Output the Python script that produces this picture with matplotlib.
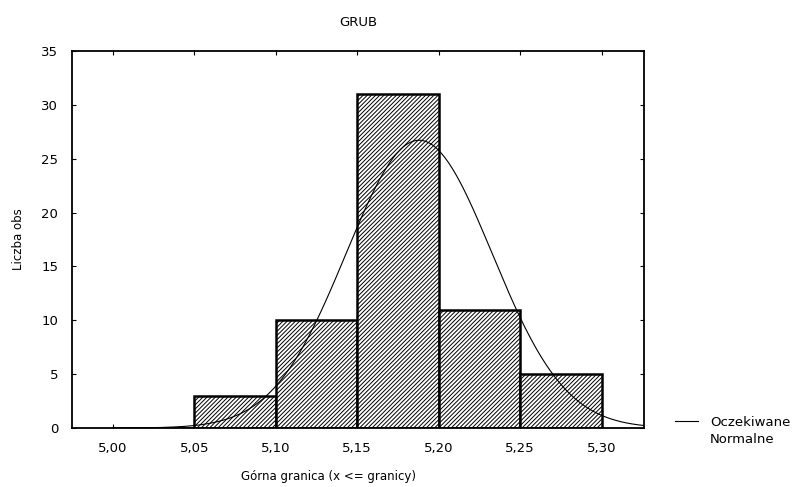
import numpy as np
import matplotlib.pyplot as plt
from matplotlib.lines import Line2D

plt.rcParams['font.family'] = ['DejaVu Sans']
plt.rcParams['hatch.linewidth'] = 0.7

# bins (left edges) and counts
left_edges = [5.00, 5.05, 5.10, 5.15, 5.20, 5.25]
counts = [0, 3, 10, 31, 11, 5]
bin_width = 0.05
tick_vals = [5.00, 5.05, 5.10, 5.15, 5.20, 5.25, 5.30]
tick_labels = ['5,00', '5,05', '5,10', '5,15', '5,20', '5,25', '5,30']

# fitted normal parameters (expected curve)
mu = 5.188
sd = 0.0448
n_obs = sum(counts)

fig = plt.figure(figsize=(7.94, 4.87), dpi=100)
ax = fig.add_axes([0.0907, 0.1211, 0.7204, 0.7742])

ax.bar(left_edges, counts, width=bin_width, align='edge', color='white',
       edgecolor='black', linewidth=1.8, hatch='/' * 8, zorder=2)

xs = np.linspace(5.0, 5.326, 300)
ys = n_obs * bin_width / (sd * np.sqrt(2 * np.pi)) * np.exp(-(xs - mu) ** 2 / (2 * sd ** 2))
line, = ax.plot(xs, ys, color='black', linewidth=0.8, zorder=3)

ax.set_xlim(4.975, 5.326)
ax.set_ylim(0, 35)
ax.set_xticks(tick_vals)
ax.set_xticklabels(tick_labels)
ax.set_yticks(range(0, 36, 5))
ax.tick_params(direction='in', length=3, labelsize=9.5, top=True, right=True,
               pad=10, width=0.8)
for s in ax.spines.values():
    s.set_linewidth(1.3)

ax.set_title('GRUB', fontsize=9.5, pad=18)
ax.set_xlabel('Górna granica (x <= granicy)', fontsize=8.5)
ax.xaxis.set_label_coords(0.448, -0.112)
ax.set_ylabel('Liczba obs', fontsize=8.5)
ax.yaxis.set_label_coords(-0.082, 0.5)

blank = Line2D([], [], color='none')
fig.legend([line, blank], ['Oczekiwane', 'Normalne'], loc='upper left',
           bbox_to_anchor=(0.843, 0.157), frameon=False, fontsize=9.5,
           handlelength=1.8, handletextpad=0.9, labelspacing=0.35,
           borderaxespad=0)

fig.savefig('out.png', dpi=100)
